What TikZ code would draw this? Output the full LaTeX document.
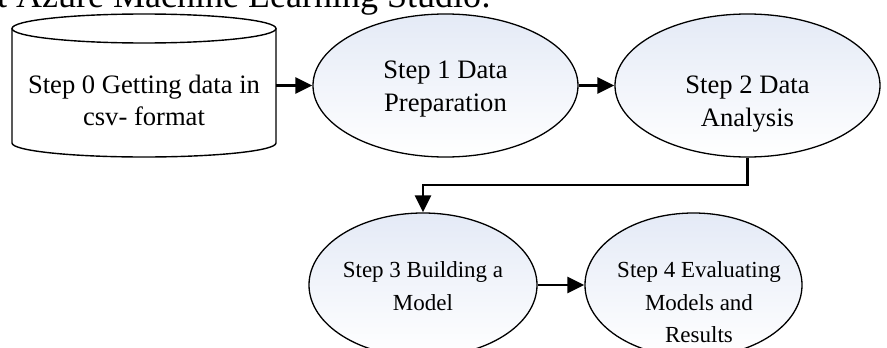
\documentclass[tikz,border=0pt]{standalone}
\usepackage{fontspec}
\setmainfont{Liberation Serif}
\usetikzlibrary{arrows.meta,shapes.geometric}

\definecolor{gradtop}{RGB}{228,234,246}
\definecolor{ink}{RGB}{0,0,0}

\tikzset{
  stage/.style={ellipse, draw=ink, line width=1.3pt, inner sep=0pt,
                top color=gradtop, bottom color=white},
  steptext/.style={anchor=base, inner sep=0pt,
                   font=\fontsize{26.6}{32.5}\selectfont},
  smalltext/.style={steptext, font=\fontsize{23}{32.5}\selectfont},
  flow/.style={draw=ink, line width=2.4pt,
               -{Triangle[length=17pt,width=16pt]}},
  drum/.style={draw=ink, line width=1.4pt},
}

\newcommand{\lines}[1]{\begin{tabular}[t]{@{}c@{}}#1\end{tabular}}

\begin{document}
\begin{tikzpicture}[x=1pt,y=1pt]
  \useasboundingbox (0,0) rectangle (887,-348);
  \clip (0,0) rectangle (887,-348);

  % heading line above the flow
  \node[anchor=base west, inner sep=0pt, font=\fontsize{36}{42}\selectfont]
    (title) at (-3,-8) {t Azure Machine Learning Studio:};

  % step 0: data store drawn as a cylinder
  \node[minimum width=264pt, minimum height=143pt, inner sep=0pt] (s0) at (144,-85.5) {};
  \draw[drum, fill=white] (12,-28.5) -- (12,-143)
    arc[start angle=180, end angle=360, x radius=132pt, y radius=14pt] -- (276,-28.5);
  \draw[drum] (144,-28.5) ellipse [x radius=132pt, y radius=14.5pt];
  \node[steptext] (t0) at (144,-93.3) {\lines{Step 0 Getting data in\\csv- format}};

  % steps 1 and 2
  \node[stage, minimum width=265pt, minimum height=143pt] (s1) at (445.5,-85.5) {};
  \node[steptext] (t1) at (445.5,-78.5) {\lines{Step 1 Data\\Preparation}};

  \node[stage, minimum width=265pt, minimum height=143pt] (s2) at (747.5,-85.5) {};
  \node[steptext] (t2) at (747.5,-93.5) {\lines{Step 2 Data\\Analysis}};

  % steps 3 and 4
  \node[stage, minimum width=228pt, minimum height=144pt] (s3) at (423,-285) {};
  \node[smalltext] (t3) at (423,-277.5) {\lines{Step 3 Building a\\Model}};

  \node[stage, minimum width=217pt, minimum height=144pt] (s4) at (693.5,-285) {};
  \node[smalltext] (t4) at (699,-277.5) {\lines{Step 4 Evaluating\\Models and\\Results}};

  % connectors
  \draw[flow] (s0.east) -- (s1.west);
  \draw[flow] (s1) -- (s2);
  \coordinate (elbow) at (747.5,-185);
  \draw[flow] (s2.south) -- (elbow) -| (s3.north);
  \draw[flow] (s3) -- (s4);
\end{tikzpicture}
\end{document}
